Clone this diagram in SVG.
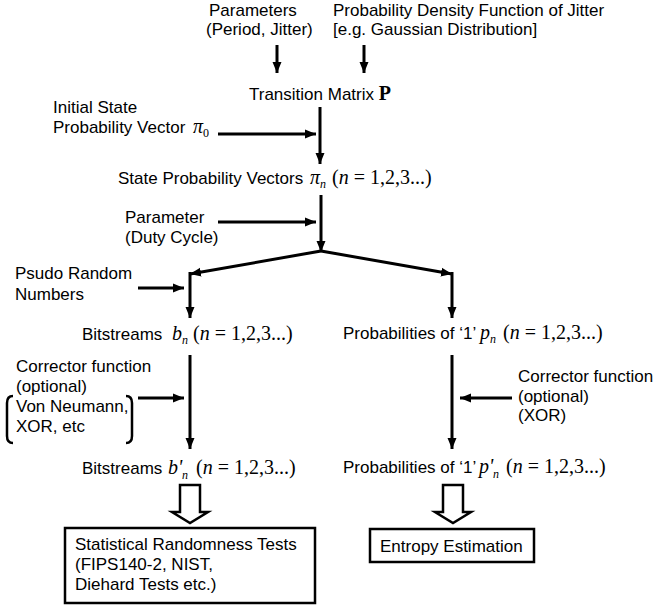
<svg xmlns="http://www.w3.org/2000/svg" width="656" height="605" viewBox="0 0 656 605">
  <style>
    .t { font-family: "Liberation Sans", Arial, sans-serif; font-size: 17px; fill: #000; }
    .m { font-family: "Liberation Serif", "Times New Roman", serif; font-size: 20px; fill: #000; }
    .i { font-style: italic; }
    .sub { font-size: 12px; }
    .ln { stroke: #000; stroke-width: 3; fill: none; }
    .box { stroke: #000; stroke-width: 2.5; fill: #fff; }
    .hollow { stroke: #000; stroke-width: 2.5; fill: #fff; stroke-linejoin: miter; }
  </style>
  <defs>
    <marker id="ah" markerUnits="userSpaceOnUse" markerWidth="12" markerHeight="10" refX="11" refY="5" orient="auto">
      <path d="M0,0.5 L11,5 L0,9.5 z" fill="#000"/>
    </marker>
  </defs>

  <!-- inputs at the top -->
  <g id="params">
    <text class="t" x="209" y="16">Parameters</text>
    <text class="t" x="206" y="35">(Period, Jitter)</text>
  </g>
  <g id="pdf">
    <text class="t" x="333" y="16">Probability Density Function of Jitter</text>
    <text class="t" x="333" y="35">[e.g. Gaussian Distribution]</text>
  </g>

  <g id="transition">
    <text class="t" x="249" y="100">Transition Matrix <tspan class="m" font-weight="bold" font-size="21">P</tspan></text>
  </g>

  <g id="initial">
    <text class="t" x="53" y="113">Initial State</text>
    <text class="t" x="53" y="133">Probability Vector <tspan class="m i" x="193">π</tspan><tspan class="m sub" dy="4">0</tspan></text>
  </g>

  <g id="state">
    <text class="t" x="118" y="184">State Probability Vectors</text>
    <text class="m" x="310" y="184"><tspan class="i">π</tspan><tspan class="i sub" dy="4">n</tspan><tspan x="332" dy="-4">(</tspan><tspan class="i">n</tspan> = 1,2,3...)</text>
  </g>

  <g id="duty">
    <text class="t" x="125" y="223">Parameter</text>
    <text class="t" x="125" y="243">(Duty Cycle)</text>
  </g>

  <g id="prng">
    <text class="t" x="15" y="279">Psudo Random</text>
    <text class="t" x="15" y="300">Numbers</text>
  </g>

  <g id="bits">
    <text class="t" x="82" y="340">Bitstreams</text>
    <text class="m" x="172" y="340"><tspan class="i">b</tspan><tspan class="i sub" dy="4">n</tspan><tspan x="193" dy="-4">(</tspan><tspan class="i">n</tspan> = 1,2,3...)</text>
  </g>

  <g id="probs">
    <text class="t" x="343" y="339">Probabilities of ‘1’</text>
    <text class="m" x="480" y="339"><tspan class="i">p</tspan><tspan class="i sub" dy="4">n</tspan><tspan x="503" dy="-4">(</tspan><tspan class="i">n</tspan> = 1,2,3...)</text>
  </g>

  <g id="corrector-left">
    <text class="t" x="16" y="372">Corrector function</text>
    <text class="t" x="16" y="392">(optional)</text>
    <text class="t" x="16" y="412">Von Neumann,</text>
    <text class="t" x="16" y="432">XOR, etc</text>
    <path d="M13,396 Q7,396 7,403 L7,436 Q7,443 13,443" stroke="#000" stroke-width="2.5" fill="none"/>
    <path d="M126,396 Q132,396 132,403 L132,436 Q132,443 126,443" stroke="#000" stroke-width="2.5" fill="none"/>
  </g>

  <g id="corrector-right">
    <text class="t" x="518" y="382">Corrector function</text>
    <text class="t" x="518" y="402">(optional)</text>
    <text class="t" x="518" y="421">(XOR)</text>
  </g>

  <g id="bits-corrected">
    <text class="t" x="82" y="474">Bitstreams</text>
    <text class="m" x="168" y="474"><tspan class="i">b'</tspan><tspan class="i sub" x="182" dy="5">n</tspan><tspan x="196" dy="-5">(</tspan><tspan class="i">n</tspan> = 1,2,3...)</text>
  </g>

  <g id="probs-corrected">
    <text class="t" x="343" y="473">Probabilities of ‘1’</text>
    <text class="m" x="479" y="473"><tspan class="i">p'</tspan><tspan class="i sub" x="493" dy="5">n</tspan><tspan x="506" dy="-5">(</tspan><tspan class="i">n</tspan> = 1,2,3...)</text>
  </g>

  <g id="tests">
    <rect class="box" x="65" y="528" width="250" height="75"/>
    <text class="t" x="75" y="550">Statistical Randomness Tests</text>
    <text class="t" x="75" y="570">(FIPS140-2, NIST,</text>
    <text class="t" x="75" y="590">Diehard Tests etc.)</text>
  </g>

  <g id="entropy">
    <rect class="box" x="370" y="529" width="164" height="33"/>
    <text class="t" x="380" y="552">Entropy Estimation</text>
  </g>

  <!-- connectors -->
  <g id="connectors">
    <line class="ln" x1="277" y1="45" x2="277" y2="73" marker-end="url(#ah)"/>
    <line class="ln" x1="364" y1="45" x2="364" y2="73" marker-end="url(#ah)"/>
    <line class="ln" x1="320" y1="107" x2="320" y2="164" marker-end="url(#ah)"/>
    <line class="ln" x1="218" y1="134" x2="316" y2="134" marker-end="url(#ah)"/>
    <line class="ln" x1="321" y1="195" x2="321" y2="252" marker-end="url(#ah)"/>
    <line class="ln" x1="218" y1="222" x2="316" y2="222" marker-end="url(#ah)"/>
    <line class="ln" x1="321" y1="251" x2="190" y2="274" marker-end="url(#ah)"/>
    <line class="ln" x1="321" y1="251" x2="452" y2="274" marker-end="url(#ah)"/>
    <line class="ln" x1="190" y1="272" x2="190" y2="318" marker-end="url(#ah)"/>
    <line class="ln" x1="452" y1="272" x2="452" y2="318" marker-end="url(#ah)"/>
    <line class="ln" x1="138" y1="288" x2="184" y2="288" marker-end="url(#ah)"/>
    <line class="ln" x1="190" y1="355" x2="190" y2="449" marker-end="url(#ah)"/>
    <line class="ln" x1="452" y1="355" x2="452" y2="449" marker-end="url(#ah)"/>
    <line class="ln" x1="138" y1="398" x2="184" y2="398" marker-end="url(#ah)"/>
    <line class="ln" x1="512" y1="398" x2="460" y2="398" marker-end="url(#ah)"/>
    <polygon class="hollow" points="180,485 200,485 200,512 208,512 190,523 172,512 180,512"/>
    <polygon class="hollow" points="443,485 463,485 463,512 471,512 453,523 435,512 443,512"/>
  </g>
</svg>
